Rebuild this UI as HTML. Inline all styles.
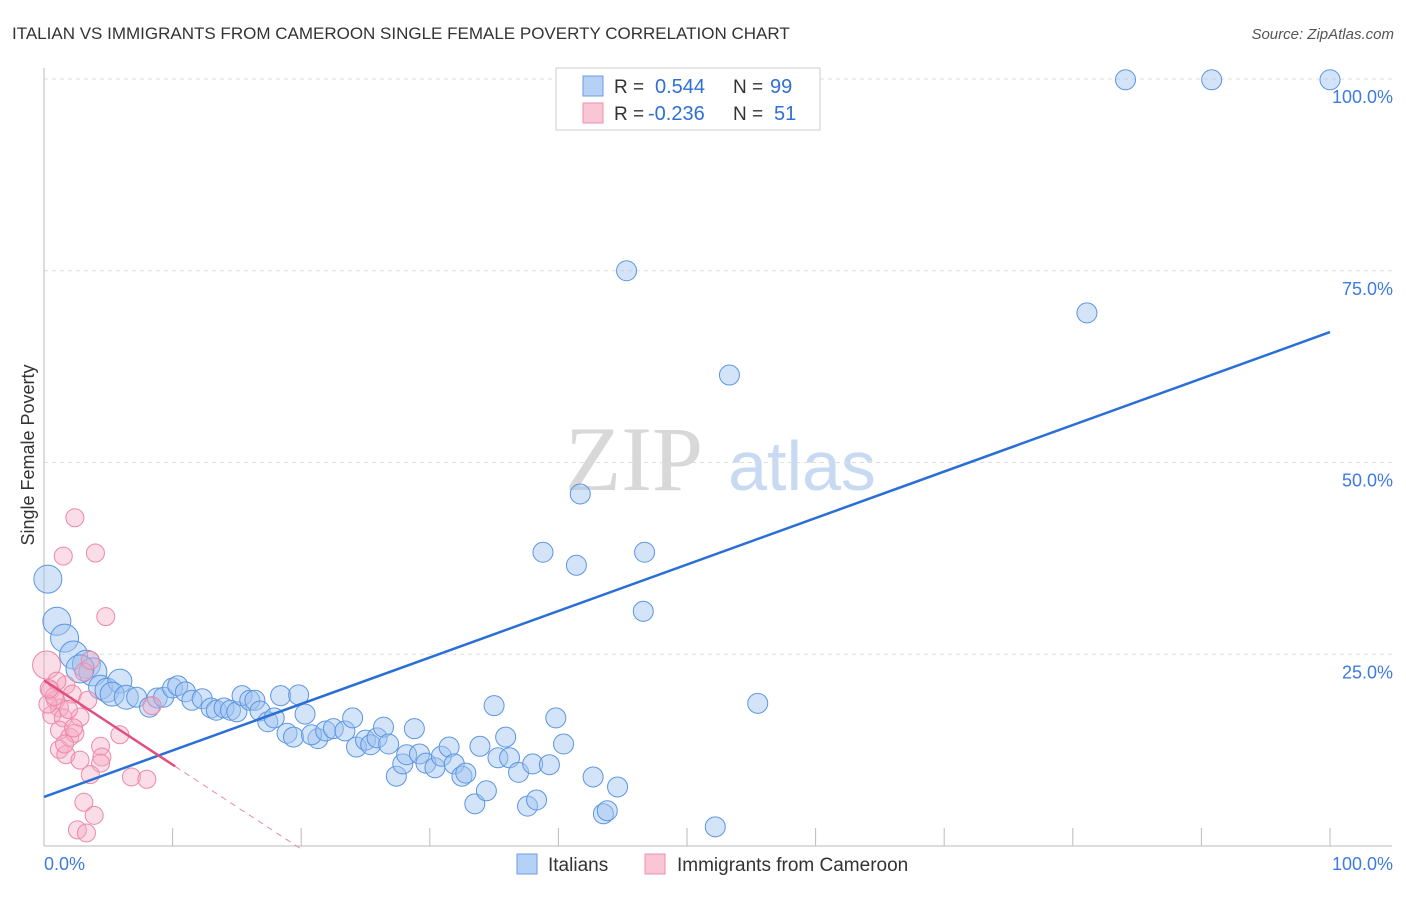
<!DOCTYPE html>
<html><head><meta charset="utf-8"><style>
body{margin:0;background:#fff;font-family:"Liberation Sans",sans-serif;}
svg text{font-family:"Liberation Sans",sans-serif;}
</style></head><body>
<svg width="1406" height="892" id="chart">
<text x="12" y="39" font-size="17" fill="#333">ITALIAN VS IMMIGRANTS FROM CAMEROON SINGLE FEMALE POVERTY CORRELATION CHART</text>
<text x="1394" y="39" font-size="15" fill="#555" font-style="italic" text-anchor="end">Source: ZipAtlas.com</text>
<text x="0" y="0" transform="translate(34,455) rotate(-90)" font-size="18" fill="#333" text-anchor="middle">Single Female Poverty</text>
<g>
<text x="634" y="490" font-size="92" fill="#d8d8d8" font-family="Liberation Serif" text-anchor="middle" style="font-family:'Liberation Serif',serif">ZIP</text>
<text x="802" y="490" font-size="70" fill="#c8daf2" text-anchor="middle">atlas</text>
</g>
<g id="grid"></g><g id="axes"></g><g id="marks"></g>
<g>
<rect x="556" y="68" width="264" height="62" fill="#fff" stroke="#ccc"/>
<rect x="583" y="76" width="20" height="20" fill="#b7d0f5" stroke="#6a9de6"/>
<text x="614" y="93" font-size="19" fill="#333">R = </text><text x="655" y="93" font-size="20" fill="#2f6fd6">0.544</text>
<text x="733" y="93" font-size="19" fill="#333">N = </text><text x="770" y="93" font-size="20" fill="#2f6fd6">99</text>
<rect x="583" y="103" width="20" height="20" fill="#f8c6d5" stroke="#ee8fae"/>
<text x="614" y="120" font-size="19" fill="#333">R = </text><text x="648" y="120" font-size="20" fill="#2f6fd6">-0.236</text>
<text x="733" y="120" font-size="19" fill="#333">N = </text><text x="774" y="120" font-size="20" fill="#2f6fd6">51</text>
</g>
<g>
<rect x="517" y="854" width="20" height="20" fill="#b7d0f5" stroke="#6a9de6"/>
<text x="548" y="871" font-size="19" fill="#333">Italians</text>
<rect x="645" y="854" width="20" height="20" fill="#f8c6d5" stroke="#ee8fae"/>
<text x="677" y="871" font-size="19" fill="#333">Immigrants from Cameroon</text>
</g>
</svg>
<script>
const blueX=[0.3,1.0,1.6,2.3,3.3,3.8,2.8,4.4,4.9,5.9,5.3,6.4,7.2,8.2,8.8,9.3,10,10.4,11,11.5,12.3,13,13.4,14,14.5,15,15.4,16,16.4,16.8,17.4,17.9,18.4,19.8,18.9,19.4,20.3,21.3,20.8,21.9,22.5,23.4,24,24.3,25,25.4,25.9,26.4,26.8,27.4,27.9,28.2,28.8,29.2,29.7,30.4,30.9,31.5,31.9,32.5,32.8,33.5,33.9,34.4,35,35.3,35.9,36.2,36.9,37.6,38,38.3,39.3,39.8,40.4,42.7,43.5,43.8,44.6,38.8,41.4,41.7,45.3,46.7,46.6,49.9,52.2,53.3,55.5,81.1,84.1,90.8,100];
const blueY=[34.8,29.3,27.1,24.9,23.7,22.7,23.1,20.7,20.3,21.5,19.8,19.4,19.4,18.1,19.3,19.4,20.6,20.9,20.1,19.0,19.2,18.0,17.7,18,17.7,17.5,19.6,19,19,17.6,16.2,16.7,19.6,19.7,14.7,14.2,17.2,14,14.5,15,15.3,15,16.7,12.9,13.8,13.2,14.1,15.5,13.3,9.1,10.7,11.9,15.3,12,10.8,10.2,11.7,12.9,10.7,9.1,9.5,5.5,13,7.2,18.3,11.5,14.2,11.5,9.6,5.2,10.7,6,10.6,16.7,13.3,9,4.2,4.6,7.7,38.3,36.6,45.9,75,38.3,30.6,99.9,2.5,61.4,18.6,69.5,99.9,99.9,99.9];
const pinkX=[0.2,0.5,0.9,1.2,0.6,1.5,1.2,2.0,2.4,2.8,1.7,2.2,3.1,3.6,3.4,1.5,2.4,4.0,4.8,1.2,1.7,1.6,4.4,4.5,4.4,5.9,3.6,6.8,8.0,3.1,3.9,2.6,3.3,2.8,2.3,8.4,0.3,0.8,1.0,1.9,0.4];
const pinkY=[23.6,20.3,19,18,17.1,16.7,15.1,14.2,14.7,16.8,21,19.8,22.7,24.2,19,37.8,42.8,38.2,29.9,12.6,11.9,13.3,13,11.6,10.8,14.5,9.3,9,8.7,5.7,4,2.1,1.7,11.2,15.4,18.3,18.5,19.5,21.5,17.8,20.5];
const blueLine=[6.4,67.0];   // y at x=0 and x=100
const pinkLine=[21.6,-1.1];  // intercept, slope
const yTicks=[25,50,75,100];
const xTickVals=[0,10,20,30,40,50,60,70,80,90,100];
const X=v=>44+v*12.86, Y=v=>846-v*7.67;
const NS="http://www.w3.org/2000/svg";
function mk(t,a,p){const e=document.createElementNS(NS,t);for(const k in a)e.setAttribute(k,a[k]);p.appendChild(e);return e;}
const grid=document.getElementById('grid'),axes=document.getElementById('axes'),marks=document.getElementById('marks');
yTicks.forEach(v=>{
 const l=mk('line',{x1:44,x2:1392,y1:Y(v),y2:Y(v),stroke:'#ddd','stroke-dasharray':'4,4'},grid);
 
 
 const t=mk('text',{x:1393,y:Y(v)+24,'font-size':18,fill:'#3d7be0','text-anchor':'end'},axes);
 t.textContent=v.toFixed(1)+'%';
 
 
});
mk('line',{x1:44,x2:44,y1:68,y2:846,stroke:'#bbb'},axes);
const bl=mk('line',{x1:44,x2:1392,y1:846,y2:846,stroke:'#bbb'},axes);


xTickVals.forEach(v=>{
 const t=mk('line',{x1:X(v),x2:X(v),y1:828,y2:846,stroke:'#bbb'},axes);
 
 
});
const x0=mk('text',{x:44,y:870,'font-size':18,fill:'#3d7be0'},axes);x0.textContent='0.0%';


const x1=mk('text',{x:1393,y:870,'font-size':18,fill:'#3d7be0','text-anchor':'end'},axes);x1.textContent='100.0%';


blueX.forEach((x,i)=>{
 const r=i<7?14:i<12?12:10;
 const c=mk('circle',{cx:X(x),cy:Y(blueY[i]),r:r,fill:'rgba(160,195,240,0.45)',stroke:'#5b95e3','stroke-width':1},marks);
 
 
});
pinkX.forEach((x,i)=>{
 const c=mk('circle',{cx:X(x),cy:Y(pinkY[i]),r:i===0?14:9,fill:'rgba(245,170,195,0.4)',stroke:'#ec88a8','stroke-width':1},marks);
 
 
});
const tl=mk('line',{x1:X(0),y1:Y(blueLine[0]),x2:X(100),y2:Y(blueLine[1]),stroke:'#2a6fd6','stroke-width':2.5},marks);


const pe=10.2, pd=20;
const ps=mk('line',{x1:X(0),y1:Y(pinkLine[0]),x2:X(pe),y2:Y(pinkLine[0]+pinkLine[1]*pe),stroke:'#e0507e','stroke-width':2.5},marks);


const pdl=mk('line',{x1:X(pe),y1:Y(pinkLine[0]+pinkLine[1]*pe),x2:X(pd),y2:Y(pinkLine[0]+pinkLine[1]*pd),stroke:'#e88aa8','stroke-width':1,'stroke-dasharray':'6,5'},marks);


</script>
</body></html>
